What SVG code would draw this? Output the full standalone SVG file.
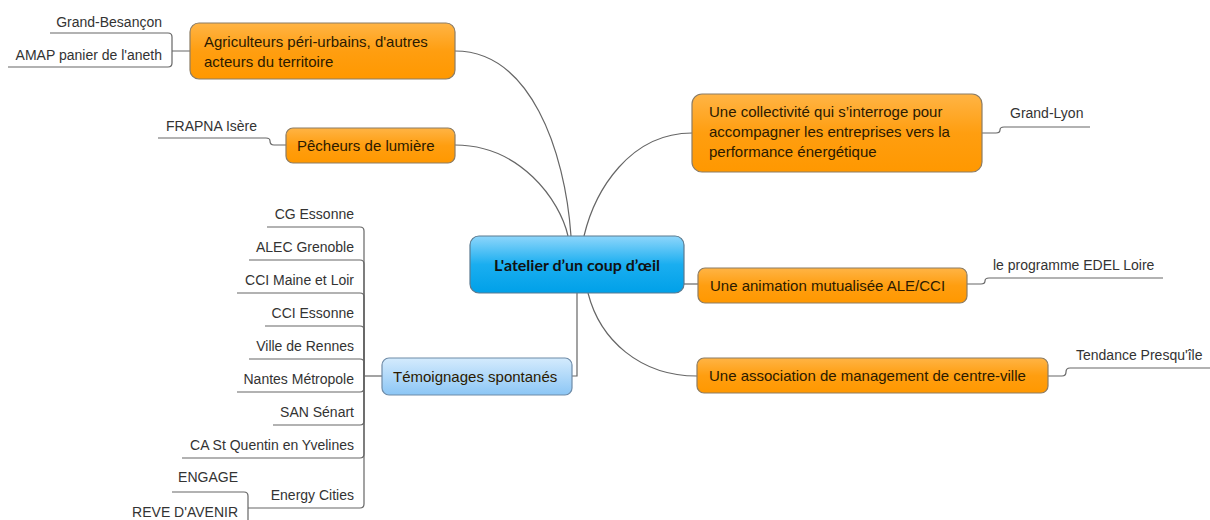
<svg xmlns="http://www.w3.org/2000/svg" width="1210" height="520" viewBox="0 0 1210 520">
<defs>
<linearGradient id="gOrange" x1="0" y1="0" x2="0" y2="1">
<stop offset="0" stop-color="#ffb445"/>
<stop offset="0.5" stop-color="#ff9e10"/>
<stop offset="1" stop-color="#ff9800"/>
</linearGradient>
<linearGradient id="gBlue" x1="0" y1="0" x2="0" y2="1">
<stop offset="0" stop-color="#8ed6fb"/>
<stop offset="0.5" stop-color="#1aaef0"/>
<stop offset="1" stop-color="#00a0e8"/>
</linearGradient>
<linearGradient id="gLight" x1="0" y1="0" x2="0" y2="1">
<stop offset="0" stop-color="#d4ebfd"/>
<stop offset="1" stop-color="#8cc6f5"/>
</linearGradient>
</defs>
<style>
.orange{fill:url(#gOrange);stroke:#8c7c64;stroke-width:1.2}
.blue{fill:url(#gBlue);stroke:#5a7a90;stroke-width:1.2}
.light{fill:url(#gLight);stroke:#6f8ca8;stroke-width:1.2}
.nt{font-family:"Liberation Sans",Arial,sans-serif;font-size:15px;fill:#2b1a00}
.ct{font-family:"Liberation Sans",Arial,sans-serif;font-size:14px;fill:#333}
.mt{font-family:Lato,"Open Sans",sans-serif;font-size:16px;font-weight:bold;fill:#111}
.ln{fill:none;stroke:#666;stroke-width:1.2}
.r{text-anchor:end}
</style>
<rect width="1210" height="520" fill="#fff"/>
<g id="connectors">
<path class="ln" d="M455,51 C530,51 565,150 571,236"/>
<path class="ln" d="M455,145 C520,145 560,200 568,236"/>
<path class="ln" d="M692,133 C630,133 595,190 584,236"/>
<path class="ln" d="M684,284 H698"/>
<path class="ln" d="M588,293 C600,340 640,376 697,376"/>
<path class="ln" d="M577,293 V376 H572"/>
<path class="ln" d="M190,51 H172 M172,51 V37 Q172,33 168,33 H50 M172,51 V63 Q172,67 168,67 H8"/>
<path class="ln" d="M286,145 H274 Q270,145 270,141 Q270,138 266,138 H158"/>
<path class="ln" d="M982,133 H996 Q1000,133 1000,130 Q1000,127 1004,127 H1090"/>
<path class="ln" d="M967,284 H981 Q985,284 985,281 Q985,278 989,278 H1163"/>
<path class="ln" d="M1048,376 H1062 Q1066,376 1066,372 Q1066,368 1070,368 H1210"/>
<path class="ln" d="M382,376 H364"/>
<path class="ln" d="M364,376 V231 Q364,227 360,227 H267"/>
<path class="ln" d="M364,376 V264 Q364,260 360,260 H249"/>
<path class="ln" d="M364,376 V297 Q364,293 360,293 H237"/>
<path class="ln" d="M364,376 V330 Q364,326 360,326 H265"/>
<path class="ln" d="M364,376 V363 Q364,359 360,359 H249"/>
<path class="ln" d="M364,376 V388 Q364,392 360,392 H237"/>
<path class="ln" d="M364,376 V421 Q364,425 360,425 H273"/>
<path class="ln" d="M364,376 V454 Q364,458 360,458 H182"/>
<path class="ln" d="M364,376 V504 Q364,508 360,508 H248"/>
<path class="ln" d="M248,508 V496 Q248,492 244,492 H172 M248,508 V522"/>
</g>
<g id="center">
<rect class="blue" x="470" y="236" width="214" height="57" rx="9"/>
<text class="mt" x="577" y="271" text-anchor="middle">L'atelier d’un coup d’œil</text>
</g>
<g id="agriculteurs">
<rect class="orange" x="190" y="23" width="265" height="56" rx="9"/>
<text class="nt" x="204" y="47">Agriculteurs péri-urbains, d'autres</text>
<text class="nt" x="204" y="67">acteurs du territoire</text>
</g>
<g id="grand-besancon"><text class="ct r" x="162" y="27">Grand-Besançon</text></g>
<g id="amap"><text class="ct r" x="162" y="60">AMAP panier de l'aneth</text></g>
<g id="pecheurs">
<rect class="orange" x="286" y="128" width="169" height="35" rx="7"/>
<text class="nt" x="297" y="151">Pêcheurs de lumière</text>
</g>
<g id="frapna"><text class="ct" x="166" y="131">FRAPNA Isère</text></g>
<g id="collectivite">
<rect class="orange" x="692" y="94" width="290" height="78" rx="10"/>
<text class="nt" x="709" y="117">Une collectivité qui s’interroge pour</text>
<text class="nt" x="709" y="137">accompagner les entreprises vers la</text>
<text class="nt" x="709" y="157">performance énergétique</text>
</g>
<g id="grand-lyon"><text class="ct" x="1010" y="118">Grand-Lyon</text></g>
<g id="animation">
<rect class="orange" x="698" y="268" width="269" height="35" rx="7"/>
<text class="nt" x="710" y="291">Une animation mutualisée ALE/CCI</text>
</g>
<g id="edel"><text class="ct" x="993" y="270">le programme EDEL Loire</text></g>
<g id="association">
<rect class="orange" x="697" y="358" width="351" height="35" rx="7"/>
<text class="nt" x="709" y="381">Une association de management de centre-ville</text>
</g>
<g id="tendance"><text class="ct" x="1076" y="360">Tendance Presqu'île</text></g>
<g id="temoignages">
<rect class="light" x="382" y="358" width="190" height="37" rx="7"/>
<text class="nt" x="393" y="382" fill="#111">Témoignages spontanés</text>
</g>
<g id="cg-essonne"><text class="ct r" x="354" y="219">CG Essonne</text></g>
<g id="alec-grenoble"><text class="ct r" x="354" y="252">ALEC Grenoble</text></g>
<g id="cci-maine"><text class="ct r" x="354" y="285">CCI Maine et Loir</text></g>
<g id="cci-essonne"><text class="ct r" x="354" y="318">CCI Essonne</text></g>
<g id="ville-rennes"><text class="ct r" x="354" y="351">Ville de Rennes</text></g>
<g id="nantes"><text class="ct r" x="354" y="384">Nantes Métropole</text></g>
<g id="san-senart"><text class="ct r" x="354" y="417">SAN Sénart</text></g>
<g id="ca-st-quentin"><text class="ct r" x="354" y="450">CA St Quentin en Yvelines</text></g>
<g id="energy-cities"><text class="ct r" x="354" y="500">Energy Cities</text></g>
<g id="engage"><text class="ct r" x="238" y="482">ENGAGE</text></g>
<g id="reve"><text class="ct r" x="238" y="517">REVE D'AVENIR</text></g>
</svg>
